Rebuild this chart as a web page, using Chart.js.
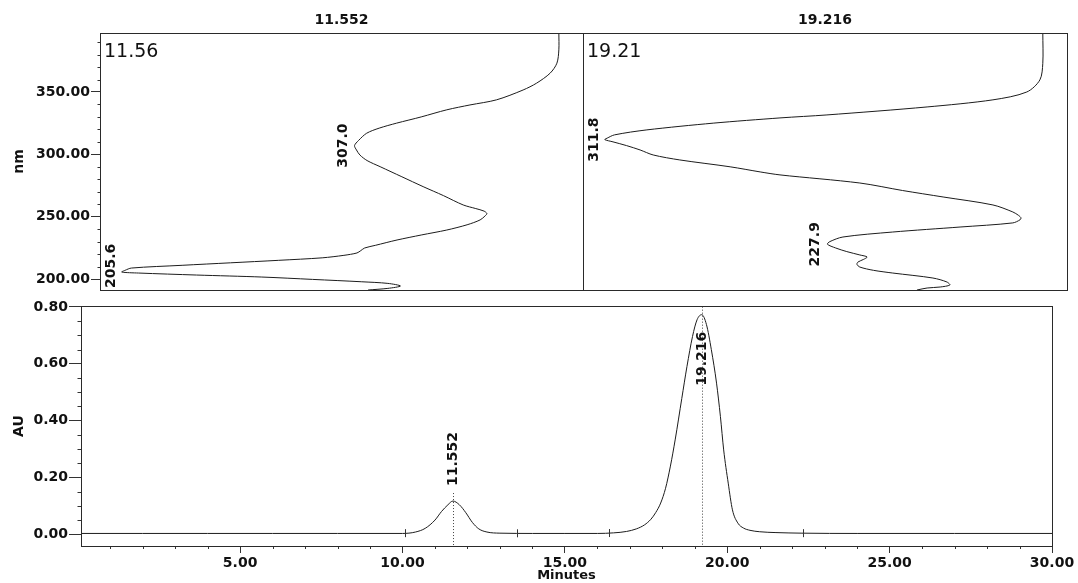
<!DOCTYPE html>
<html>
<head>
<meta charset="utf-8">
<script src="https://cdn.jsdelivr.net/npm/chart.js@4.4.1/dist/chart.umd.min.js"></script>
<style>
  html, body { margin: 0; padding: 0; background: #fff; width: 1078px; height: 583px; overflow: hidden; }
  canvas { position: absolute; }
</style>
</head>
<body>
<canvas id="specA" width="584" height="292" style="left:0px;top:0px"></canvas>
<canvas id="specB" width="485" height="292" style="left:583px;top:0px"></canvas>
<canvas id="chrom" width="1078" height="290" style="left:0px;top:293px"></canvas>
<script>
// ---- Chromatogram: retention time (min) vs detector response (AU) ----
const times = [0.1, 2.0, 4.0, 6.0, 8.0, 10.0, 10.4, 10.7, 11.0, 11.2, 11.4, 11.552, 11.75, 11.95, 12.15, 12.35, 12.6, 13.0,
  14.0, 15.0, 16.0, 16.5, 16.9, 17.2, 17.45, 17.65, 17.8, 17.95, 18.1, 18.25, 18.4, 18.6, 18.76, 18.93, 19.07, 19.216,
  19.36, 19.51, 19.67, 19.79, 19.89, 20.03, 20.16, 20.33, 20.5, 20.7, 21.0, 21.5, 22.3, 24.0, 27.0, 30.0];
const absorbanceAU = [0.003, 0.003, 0.003, 0.003, 0.003, 0.003, 0.008, 0.021, 0.050, 0.080, 0.104, 0.117, 0.104, 0.076, 0.042, 0.019, 0.008, 0.004,
  0.003, 0.003, 0.003, 0.005, 0.010, 0.019, 0.033, 0.053, 0.077, 0.110, 0.162, 0.240, 0.335, 0.478, 0.591, 0.696, 0.755, 0.773,
  0.738, 0.650, 0.532, 0.414, 0.297, 0.180, 0.086, 0.039, 0.022, 0.014, 0.009, 0.006, 0.004, 0.003, 0.003, 0.003];
const peakTimes = [11.552, 19.216];
const integrationMarks = [10.08, 13.52, 16.35, 22.32];
const timeTicks = [5, 10, 15, 20, 25, 30];
const auTicks = [0, 0.2, 0.4, 0.6, 0.8];
const nmTicks = [200, 250, 300, 350];

// ---- UV spectrum of the peak at 11.552 min ----
const spec1Time = 11.56;
const spec1Nm = [191.2, 192.5, 194.4, 196.5, 197.8, 199.7, 201.6, 203.2, 204.8, 205.6, 207.0, 208.8, 211.0, 213.0, 215.0,
  217.0, 219.0, 220.9, 222.8, 224.9, 227.0, 231.3, 235.3, 239.3, 243.5, 247.4, 250.5, 252.5, 254.5, 256.5, 259.4, 266.9,
  274.1, 282.0, 290.1, 295.0, 299.5, 303.5, 307.0, 311.0, 316.9, 321.0, 325.0, 330.0, 335.7, 339.6, 343.7, 351.6, 357.1,
  365.1, 373.1, 383.8, 397.3];
const spec1Abs = [0.555, 0.596, 0.622, 0.596, 0.542, 0.440, 0.335, 0.200, 0.080, 0.045, 0.052, 0.065, 0.170, 0.270, 0.370,
  0.460, 0.505, 0.532, 0.540, 0.548, 0.570, 0.615, 0.665, 0.718, 0.760, 0.787, 0.797, 0.801, 0.795, 0.778, 0.752, 0.711,
  0.669, 0.625, 0.580, 0.553, 0.538, 0.531, 0.527, 0.535, 0.552, 0.578, 0.614, 0.665, 0.718, 0.766, 0.821, 0.876, 0.904,
  0.932, 0.946, 0.950, 0.950];
const spec1Minima = [205.6, 307.0];

// ---- UV spectrum of the peak at 19.216 min ----
const spec2Time = 19.21;
const spec2Nm = [191.2, 192.8, 193.6, 195.2, 197.6, 200.8, 204.8, 207.0, 209.6, 211.8, 213.6, 215.8, 217.7, 219.3, 222.0,
  224.9, 227.9, 230.0, 233.7, 237.7, 241.7, 245.0, 247.5, 249.0, 251.0, 253.8, 259.4, 265.8, 271.0, 277.0, 283.5, 285.9,
  290.0, 295.5, 299.5, 303.5, 307.0, 310.0, 311.8, 313.0, 315.6, 319.6, 325.0, 329.2, 331.6, 338.0, 343.7, 350.0, 359.7,
  373.0, 397.3];
const spec2Abs = [0.690, 0.711, 0.738, 0.758, 0.752, 0.723, 0.640, 0.600, 0.572, 0.566, 0.568, 0.580, 0.587, 0.572, 0.545,
  0.522, 0.505, 0.510, 0.537, 0.640, 0.779, 0.888, 0.903, 0.905, 0.900, 0.888, 0.847, 0.744, 0.660, 0.572, 0.407, 0.366,
  0.304, 0.200, 0.145, 0.118, 0.090, 0.062, 0.045, 0.050, 0.065, 0.132, 0.269, 0.407, 0.504, 0.711, 0.847, 0.917, 0.944,
  0.950, 0.950];
const spec2Minima = [227.9, 311.8];

const FONT = "'DejaVu Sans'";
const INK = '#111';
const LINE = '#1c1c1c';
Chart.defaults.font.family = FONT;
Chart.defaults.color = INK;

// Box round the plot area
const framePlugin = {
  id: 'frame',
  afterDraw(chart) {
    const { ctx, chartArea: a } = chart;
    ctx.save();
    ctx.strokeStyle = '#2a2a2a';
    ctx.lineWidth = 1;
    ctx.strokeRect(Math.round(a.left) + 0.5, Math.round(a.top) + 0.5,
      Math.round(a.right - a.left), Math.round(a.bottom - a.top));
    ctx.restore();
  }
};

// Short unlabelled ticks between the labelled ones
function drawMinorTicks(ctx, scale, from, to, step, skipEvery, len) {
  ctx.save();
  ctx.strokeStyle = '#333';
  ctx.lineWidth = 1;
  ctx.beginPath();
  const n = Math.round((to - from) / step);
  for (let k = 0; k <= n; k++) {
    const v = from + k * step;
    if (Math.abs(v / skipEvery - Math.round(v / skipEvery)) < 1e-6) continue;
    const p = Math.round(scale.getPixelForValue(v)) + 0.5;
    if (scale.isHorizontal()) {
      const y = Math.round(scale.top);
      ctx.moveTo(p, y); ctx.lineTo(p, y + len);
    } else {
      const x = Math.round(scale.right) + 0.5;
      ctx.moveTo(x, p); ctx.lineTo(x - len, p);
    }
  }
  ctx.stroke();
  ctx.restore();
}

function spectrumChart(id, nm, abs, minima, retTime, title, showAxis) {
  const labelPlugin = {
    id: 'specLabels',
    afterDatasetsDraw(chart) {
      const { ctx, chartArea: a, scales } = chart;
      const xs = scales.x, ys = scales.y;
      ctx.save();
      ctx.fillStyle = INK;
      // retention time in the upper left corner
      ctx.font = '19px ' + FONT;
      ctx.textAlign = 'left';
      ctx.textBaseline = 'alphabetic';
      ctx.fillText(retTime.toFixed(2), a.left + 4, a.top + 24);
      // wavelengths of the absorbance minima, written upwards beside the curve
      ctx.font = 'bold 14px ' + FONT;
      minima.forEach(w => {
        const i = nm.indexOf(w);
        const text = w.toFixed(1);
        const half = ctx.measureText(text).width / 2;
        const px = xs.getPixelForValue(abs[i]);
        let py = ys.getPixelForValue(w);
        py = Math.min(py, a.bottom - half - 2);
        const bx = Math.max(px - 8, a.left + 15);
        ctx.save();
        ctx.translate(bx, py);
        ctx.rotate(-Math.PI / 2);
        ctx.textAlign = 'center';
        ctx.fillText(text, 0, 0);
        ctx.restore();
      });
      ctx.restore();
      if (showAxis) drawMinorTicks(ctx, ys, 200, 390, 10, 50, 3);
    }
  };

  return new Chart(document.getElementById(id), {
    type: 'line',
    data: {
      datasets: [{
        data: nm.map((w, i) => ({ x: abs[i], y: w })),
        borderColor: LINE,
        borderWidth: 1,
        pointRadius: 0,
        fill: false,
        tension: 0.3
      }]
    },
    options: {
      responsive: false,
      animation: false,
      devicePixelRatio: 1,
      indexAxis: 'y',
      events: [],
      layout: { padding: { left: 0, right: 1, top: 0, bottom: 2 } },
      plugins: {
        legend: { display: false },
        tooltip: { enabled: false },
        title: {
          display: true,
          text: title,
          fullSize: false,
          color: INK,
          font: { family: FONT, size: 14, weight: 'bold' },
          padding: { top: 12, bottom: 4.2 }
        }
      },
      scales: {
        x: { type: 'linear', min: 0, max: 1, display: false },
        y: {
          type: 'linear',
          min: 191.2,
          max: 397.3,
          display: showAxis,
          afterFit: s => {
            if (showAxis) s.width = 100;
            s.paddingTop = 0;
            s.paddingBottom = 0;
          },
          afterBuildTicks: s => { s.ticks = nmTicks.map(v => ({ value: v })); },
          ticks: {
            callback: v => Number(v).toFixed(2),
            color: INK,
            padding: 1,
            font: { family: FONT, size: 14, weight: 'bold' }
          },
          grid: { drawOnChartArea: false, tickLength: 9, color: '#333' },
          border: { color: '#333' },
          title: {
            display: true,
            text: 'nm',
            color: INK,
            font: { family: FONT, size: 14, weight: 'bold' },
            padding: { top: 11, bottom: 0 }
          }
        }
      }
    },
    plugins: [framePlugin, labelPlugin]
  });
}

spectrumChart('specA', spec1Nm, spec1Abs, spec1Minima, spec1Time, peakTimes[0].toFixed(3), true);
spectrumChart('specB', spec2Nm, spec2Abs, spec2Minima, spec2Time, peakTimes[1].toFixed(3), false);

// Interpolated response at a given time, from the chromatogram arrays
function responseAt(t) {
  for (let i = 1; i < times.length; i++) {
    if (t <= times[i]) {
      const f = (t - times[i - 1]) / (times[i] - times[i - 1]);
      return absorbanceAU[i - 1] + f * (absorbanceAU[i] - absorbanceAU[i - 1]);
    }
  }
  return absorbanceAU[absorbanceAU.length - 1];
}

const chromPlugin = {
  id: 'chromMarks',
  afterDatasetsDraw(chart) {
    const { ctx, chartArea: a, scales } = chart;
    const xs = scales.x, ys = scales.y;
    ctx.save();
    ctx.strokeStyle = '#333';
    ctx.lineWidth = 1;
    // integration start/end marks on the baseline
    ctx.beginPath();
    integrationMarks.forEach(t => {
      const x = Math.round(xs.getPixelForValue(t)) + 0.5;
      const y = ys.getPixelForValue(responseAt(t));
      ctx.moveTo(x, y - 4); ctx.lineTo(x, y + 4);
    });
    ctx.stroke();
    // retention time markers
    ctx.font = 'bold 14px ' + FONT;
    ctx.fillStyle = INK;
    peakTimes.forEach(t => {
      const x = Math.round(xs.getPixelForValue(t)) + 0.5;
      const apex = ys.getPixelForValue(responseAt(t));
      const text = t.toFixed(3);
      const w = ctx.measureText(text).width;
      const lineTop = apex - 8;
      ctx.save();
      ctx.setLineDash([1, 2]);
      ctx.strokeStyle = '#444';
      ctx.beginPath();
      ctx.moveTo(x, lineTop); ctx.lineTo(x, a.bottom);
      ctx.stroke();
      ctx.restore();
      let start = lineTop - 7;
      if (start - w < a.top + 2) start = apex + 17 + w;
      ctx.save();
      ctx.translate(x, start);
      ctx.rotate(-Math.PI / 2);
      ctx.textAlign = 'left';
      ctx.textBaseline = 'middle';
      ctx.fillText(text, 0, 0);
      ctx.restore();
    });
    ctx.restore();
    drawMinorTicks(ctx, xs, 1, 29, 1, 5, 3);
    drawMinorTicks(ctx, ys, 0, 0.8, 0.05, 0.2, 4);
  }
};

new Chart(document.getElementById('chrom'), {
  type: 'line',
  data: {
    datasets: [{
      data: times.map((t, i) => ({ x: t, y: absorbanceAU[i] })),
      borderColor: LINE,
      borderWidth: 1,
      pointRadius: 0,
      fill: false,
      cubicInterpolationMode: 'monotone'
    }]
  },
  options: {
    responsive: false,
    animation: false,
    devicePixelRatio: 1,
    events: [],
    layout: { padding: { left: 0, right: 26, top: 13, bottom: 0 } },
    plugins: { legend: { display: false }, tooltip: { enabled: false } },
    scales: {
      x: {
        type: 'linear',
        min: 0.1,
        max: 30,
        afterFit: s => { s.height = 37; },
        afterBuildTicks: s => { s.ticks = timeTicks.map(v => ({ value: v })); },
        ticks: {
          callback: v => Number(v).toFixed(2),
          color: INK,
          padding: 2,
          maxRotation: 0,
          autoSkip: false,
          font: { family: FONT, size: 14, weight: 'bold' }
        },
        grid: { drawOnChartArea: false, tickLength: 7, color: '#333' },
        border: { color: '#333' },
        title: {
          display: true,
          text: 'Minutes',
          color: INK,
          font: { family: FONT, size: 13, weight: 'bold' },
          padding: { top: 0, bottom: 0 }
        }
      },
      y: {
        type: 'linear',
        min: -0.0412,
        max: 0.8035,
        afterFit: s => { s.width = 81; },
        afterBuildTicks: s => { s.ticks = auTicks.map(v => ({ value: v })); },
        ticks: {
          callback: v => Number(v).toFixed(2),
          color: INK,
          padding: 1,
          font: { family: FONT, size: 14, weight: 'bold' }
        },
        grid: { drawOnChartArea: false, tickLength: 12, color: '#333' },
        border: { color: '#333' },
        title: {
          display: true,
          text: 'AU',
          color: INK,
          font: { family: FONT, size: 14, weight: 'bold' },
          padding: { top: 11, bottom: 0 }
        }
      }
    }
  },
  plugins: [framePlugin, chromPlugin]
});
</script>
</body>
</html>
